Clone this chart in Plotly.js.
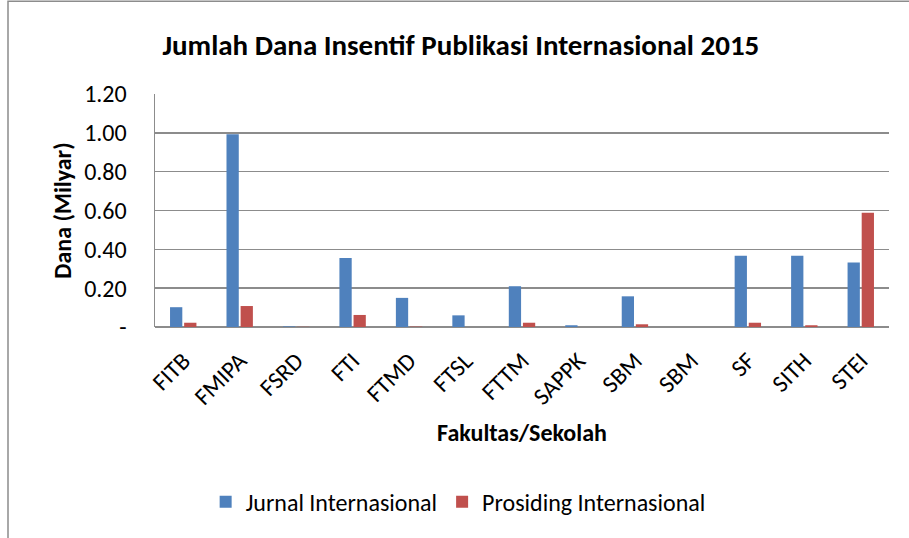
<!DOCTYPE html>
<html>
<head>
<meta charset="utf-8">
<script src="https://cdn.plot.ly/plotly-3.0.1.min.js"></script>
<style>
  html, body { margin: 0; padding: 0; background: #ffffff; }
  #chart { width: 909px; height: 538px; }
</style>
</head>
<body>
<div id="chart"></div>
<script>
const categories = ['FITB', 'FMIPA', 'FSRD', 'FTI', 'FTMD', 'FTSL', 'FTTM', 'SAPPK', 'SBM', 'SBM', 'SF', 'SITH', 'STEI'];
const jurnal = [0.102, 0.993, 0.003, 0.356, 0.150, 0.060, 0.210, 0.009, 0.158, 0, 0.367, 0.367, 0.332];
const prosiding = [0.022, 0.108, 0.001, 0.062, 0.002, 0, 0.022, 0, 0.014, 0, 0.022, 0.009, 0.589];
const yTickValues = [0, 0.2, 0.4, 0.6, 0.8, 1.0, 1.2];
const yTickLabels = ['-', '0.20', '0.40', '0.60', '0.80', '1.00', '1.20'];
const seriesNames = ['Jurnal Internasional', 'Prosiding Internasional'];

const idx = categories.map((c, i) => i);
const FONT = 'Carlito, Lato, "Open Sans", "Liberation Sans", sans-serif';

const traces = [
  { type: 'bar', name: seriesNames[0], x: idx, y: jurnal, marker: { color: '#4F81BD' } },
  { type: 'bar', name: seriesNames[1], x: idx, y: prosiding, marker: { color: '#C0504D' } }
];

const layout = {
  width: 909, height: 538,
  margin: { l: 155, r: 20, t: 94, b: 211 },
  paper_bgcolor: '#ffffff', plot_bgcolor: '#ffffff',
  font: { family: FONT, color: '#000000', size: 22 },
  title: { text: '<b>Jumlah Dana Insentif Publikasi Internasional 2015</b>', x: 0.507, xanchor: 'center', y: 0.916, yanchor: 'middle', font: { size: 29, family: FONT } },
  barmode: 'group', bargap: 0.5, bargroupgap: 0.13,
  xaxis: {
    tickvals: idx, ticktext: categories, tickangle: -45,
    range: [-0.5, categories.length - 0.5],
    showgrid: false, zeroline: false, showline: false, ticks: '',
    ticklabelstandoff: 14,
    tickfont: { size: 24, family: FONT },
    title: { text: '<b>Fakultas/Sekolah</b>', font: { size: 24, family: FONT }, standoff: 14 }
  },
  yaxis: {
    range: [0, 1.2], tickvals: yTickValues, ticktext: yTickLabels,
    showgrid: true, gridcolor: '#8c8c8c', gridwidth: 1.5,
    zeroline: true, zerolinecolor: '#8c8c8c', zerolinewidth: 1.5,
    showline: true, linecolor: '#8c8c8c', linewidth: 1.5,
    ticks: '', ticklabelstandoff: 22,
    tickfont: { size: 24, family: FONT },
    title: { text: '<b>Dana (Milyar)</b>', font: { size: 24, family: FONT }, standoff: 5 }
  },
  legend: {
    orientation: 'h', x: 0.069, xanchor: 'left', y: -0.655, yanchor: 'top',
    font: { size: 24, family: FONT }, itemwidth: 30, traceorder: 'normal'
  },
  shapes: [
    { type: 'rect', xref: 'paper', yref: 'paper', x0: (8 - 155) / 734, x1: 1.2, y0: -1.5, y1: (327 - 2) / 232.5,
      line: { color: '#8c8c8c', width: 1.5 }, fillcolor: 'rgba(0,0,0,0)', layer: 'below' }
  ],
  showlegend: true
};

Plotly.newPlot('chart', traces, layout, { displayModeBar: false, staticPlot: true });
</script>
</body>
</html>
